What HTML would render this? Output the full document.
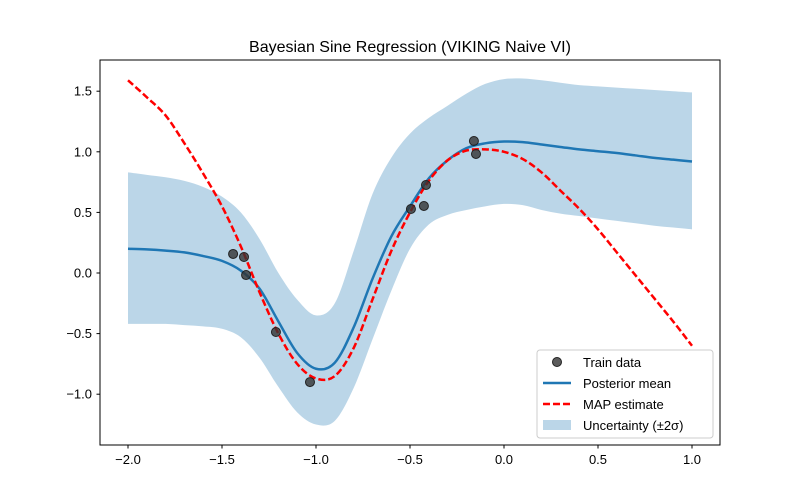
<!DOCTYPE html>
<html><head><meta charset="utf-8"><style>
html,body{margin:0;padding:0;background:#fff;}
svg{display:block;font-family:"Liberation Sans","DejaVu Sans",sans-serif;}
</style></head><body>
<svg id="chart" width="800" height="500" viewBox="0 0 800 500">
<rect width="800" height="500" fill="#fff"/>
<text x="410" y="52" text-anchor="middle" font-size="16" fill="#000">Bayesian Sine Regression (VIKING Naive VI)</text>
<g id="band"></g>
<g id="lines"></g>
<g id="points"></g>
<rect x="100" y="60" width="620" height="385" fill="none" stroke="#000" stroke-width="1"/>
<g id="xticks"></g>
<g id="yticks"></g>
<g>
<rect x="537" y="350" width="176" height="88" rx="3" fill="#fff" fill-opacity="0.8" stroke="#ccc"/>
<circle cx="557" cy="362" r="4.5" fill="#333" fill-opacity="0.8" stroke="#222"/>
<text x="583" y="367" font-size="13">Train data</text>
<line x1="543" y1="383" x2="571" y2="383" stroke="#1f77b4" stroke-width="2.5"/>
<text x="583" y="388" font-size="13">Posterior mean</text>
<line x1="543" y1="404" x2="571" y2="404" stroke="#f00" stroke-width="2.5" stroke-dasharray="7,3"/>
<text x="583" y="409" font-size="13">MAP estimate</text>
<rect x="543" y="420" width="28" height="10" fill="#1f77b4" fill-opacity="0.3"/>
<text x="583" y="430" font-size="13">Uncertainty (±2σ)</text>
</g>
</svg>
<script>
const gridX = [-2.0,-1.9,-1.8,-1.7,-1.6,-1.5,-1.4,-1.3,-1.2,-1.1,-1.0,-0.9,-0.8,-0.7,-0.6,-0.5,-0.4,-0.3,-0.2,-0.1,0.0,0.1,0.2,0.3,0.4,0.5,0.6,0.7,0.8,0.9,1.0];
const meanY = [0.20,0.195,0.185,0.17,0.14,0.10,0.02,-0.13,-0.40,-0.66,-0.79,-0.74,-0.45,-0.05,0.30,0.55,0.78,0.93,1.03,1.07,1.085,1.08,1.06,1.04,1.02,1.005,0.99,0.97,0.95,0.935,0.92];
const mapY = [1.59,1.45,1.30,1.07,0.82,0.55,0.22,-0.16,-0.50,-0.75,-0.87,-0.85,-0.62,-0.22,0.18,0.50,0.76,0.93,1.01,1.02,1.00,0.94,0.83,0.68,0.53,0.36,0.17,-0.02,-0.21,-0.40,-0.60];
const upperY = [0.83,0.81,0.79,0.76,0.71,0.63,0.50,0.28,0.0,-0.22,-0.35,-0.25,0.18,0.65,0.95,1.15,1.28,1.38,1.48,1.56,1.60,1.605,1.59,1.57,1.55,1.54,1.53,1.52,1.51,1.50,1.49];
const lowerY = [-0.42,-0.42,-0.42,-0.43,-0.44,-0.46,-0.53,-0.70,-0.94,-1.15,-1.25,-1.22,-0.95,-0.55,-0.15,0.20,0.40,0.48,0.52,0.55,0.57,0.56,0.52,0.49,0.47,0.45,0.43,0.41,0.39,0.375,0.36];
const trainX = [-1.441,-1.383,-1.372,-1.213,-1.032,-0.495,-0.426,-0.415,-0.160,-0.149];
const trainY = [0.157,0.132,-0.017,-0.487,-0.90,0.528,0.553,0.726,1.089,0.982];
const xTicks = [-2.0,-1.5,-1.0,-0.5,0.0,0.5,1.0];
const yTicks = [-1.0,-0.5,0.0,0.5,1.0,1.5];

const NS="http://www.w3.org/2000/svg";
function sx(v){return 504+v*188;}
function sy(v){return 273-v*121.2;}
function mk(t,a,p){const e=document.createElementNS(NS,t);for(const k in a)e.setAttribute(k,a[k]);p.appendChild(e);return e;}
function smooth(xs,ys){
  const P=xs.map((x,i)=>[sx(x),sy(ys[i])]);
  let d="M"+P[0][0]+","+P[0][1];
  for(let i=0;i<P.length-1;i++){
    const p0=P[Math.max(0,i-1)],p1=P[i],p2=P[i+1],p3=P[Math.min(P.length-1,i+2)];
    const c1=[p1[0]+(p2[0]-p0[0])/6,p1[1]+(p2[1]-p0[1])/6];
    const c2=[p2[0]-(p3[0]-p1[0])/6,p2[1]-(p3[1]-p1[1])/6];
    d+=" C"+c1+" "+c2+" "+p2;
  }
  return d;
}
const up=smooth(gridX,upperY);
const rx=gridX.slice().reverse(), rl=lowerY.slice().reverse();
const lo=smooth(rx,rl).replace(/^M/,"L");
const band=mk("path",{d:up+" "+lo+" Z",fill:"#1f77b4","fill-opacity":"0.3"},document.getElementById("band"));


const lines=document.getElementById("lines");
const m=mk("path",{d:smooth(gridX,meanY),fill:"none",stroke:"#1f77b4","stroke-width":"2.5"},lines);


const mp=mk("path",{d:smooth(gridX,mapY),fill:"none",stroke:"#f00","stroke-width":"2.5","stroke-dasharray":"7,3"},lines);


const pts=document.getElementById("points");
trainX.forEach((x,i)=>{
  const c=mk("circle",{cx:sx(x),cy:sy(trainY[i]),r:4.5,fill:"#333","fill-opacity":"0.8",stroke:"#222"},pts);
  
  
});
const xg=document.getElementById("xticks");
xTicks.forEach(v=>{
  const l=mk("line",{x1:sx(v),x2:sx(v),y1:445,y2:448.5,stroke:"#000"},xg);
  
  
  const t=mk("text",{x:sx(v),y:464,"text-anchor":"middle","font-size":"13"},xg);
  t.textContent=(v<0?"\u2212":"")+Math.abs(v).toFixed(1);
  
  
});
const yg=document.getElementById("yticks");
yTicks.forEach(v=>{
  const l=mk("line",{x1:96.5,x2:100,y1:sy(v),y2:sy(v),stroke:"#000"},yg);
  
  
  const t=mk("text",{x:92,y:sy(v)+4.5,"text-anchor":"end","font-size":"13"},yg);
  t.textContent=(v<0?"\u2212":"")+Math.abs(v).toFixed(1);
  
  
});
</script>
</body></html>
